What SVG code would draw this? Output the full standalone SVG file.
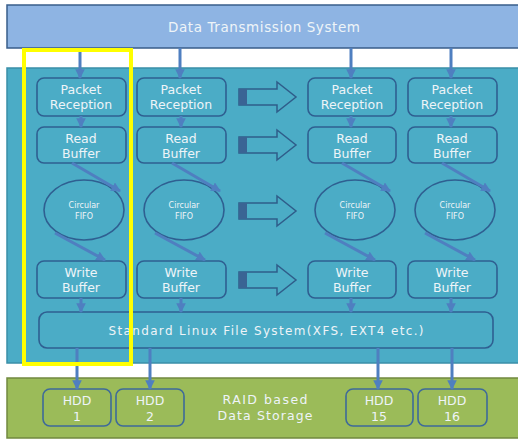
<svg xmlns="http://www.w3.org/2000/svg" width="518" height="439" viewBox="0 0 518 439">
<defs>
<marker id="ah" viewBox="0 0 10 10" refX="9" refY="5" markerWidth="3.2" markerHeight="3.2" orient="auto" markerUnits="strokeWidth">
<path d="M0,0 L10,5 L0,10 z" fill="#4F7FC0"/>
</marker>
<g id="blk">
<path d="M0,7 H38 V0 L57,15 L38,30 V23 H0 Z" fill="none" stroke="#2F5D8A" stroke-width="1.5"/>
<rect x="0" y="7" width="8" height="16" fill="#3A6494"/>
</g>
</defs>
<style>
.t{font-family:"DejaVu Sans","Liberation Sans",sans-serif;fill:#EEF4F8;text-anchor:middle}
.n{fill:#4BACC6;stroke:#2F5F91;stroke-width:1.6}
.h{fill:#9BBB59;stroke:#3E6A9A;stroke-width:1.6}
.c line,.c path{stroke:#4F7FC0;stroke-width:3;fill:none;marker-end:url(#ah)}
</style>
<rect width="518" height="439" fill="#ffffff"/>
<g id="dts">
<rect x="7" y="5" width="514" height="43" fill="#8EB4E3" stroke="#385D8A" stroke-width="1.5"/>
<text class="t" x="264" y="32" font-size="13.5" textLength="192" lengthAdjust="spacing">Data Transmission System</text>
</g>
<g id="panel">
<rect x="7" y="68" width="514" height="295" fill="#4BACC6" stroke="#3A8FA8" stroke-width="1.5"/>
</g>
<g id="storage">
<rect x="7" y="378" width="514" height="60" fill="#9BBB59" stroke="#71893F" stroke-width="1.5"/>
<text class="t" x="265" y="404" font-size="12.5" textLength="85" lengthAdjust="spacing">RAID based</text>
<text class="t" x="265" y="420" font-size="12.5" textLength="95" lengthAdjust="spacing">Data Storage</text>
</g>
<g id="blockarrows">
<use href="#blk" x="239" y="82"/>
<use href="#blk" x="239" y="130"/>
<use href="#blk" x="239" y="196"/>
<use href="#blk" x="239" y="265"/>
</g>
<g id="pr1"><rect class="n" x="37" y="78" width="89" height="38" rx="7"/><text class="t" x="81" y="94" font-size="12.5">Packet</text><text class="t" x="81" y="109" font-size="12.5">Reception</text></g>
<g id="pr2"><rect class="n" x="137" y="78" width="89" height="38" rx="7"/><text class="t" x="181" y="94" font-size="12.5">Packet</text><text class="t" x="181" y="109" font-size="12.5">Reception</text></g>
<g id="pr3"><rect class="n" x="308" y="78" width="88" height="38" rx="7"/><text class="t" x="352" y="94" font-size="12.5">Packet</text><text class="t" x="352" y="109" font-size="12.5">Reception</text></g>
<g id="pr4"><rect class="n" x="408" y="78" width="89" height="38" rx="7"/><text class="t" x="452" y="94" font-size="12.5">Packet</text><text class="t" x="452" y="109" font-size="12.5">Reception</text></g>
<g id="rb1"><rect class="n" x="37" y="127" width="89" height="36" rx="7"/><text class="t" x="81" y="143" font-size="12.5">Read</text><text class="t" x="81" y="158" font-size="12.5">Buffer</text></g>
<g id="rb2"><rect class="n" x="137" y="127" width="89" height="36" rx="7"/><text class="t" x="181" y="143" font-size="12.5">Read</text><text class="t" x="181" y="158" font-size="12.5">Buffer</text></g>
<g id="rb3"><rect class="n" x="308" y="127" width="88" height="36" rx="7"/><text class="t" x="352" y="143" font-size="12.5">Read</text><text class="t" x="352" y="158" font-size="12.5">Buffer</text></g>
<g id="rb4"><rect class="n" x="408" y="127" width="89" height="36" rx="7"/><text class="t" x="452" y="143" font-size="12.5">Read</text><text class="t" x="452" y="158" font-size="12.5">Buffer</text></g>
<g id="ff1"><ellipse class="n" cx="84" cy="210" rx="40" ry="30"/><text class="t" x="84" y="208" font-size="8">Circular</text><text class="t" x="84" y="219" font-size="8">FIFO</text></g>
<g id="ff2"><ellipse class="n" cx="184" cy="210" rx="40" ry="30"/><text class="t" x="184" y="208" font-size="8">Circular</text><text class="t" x="184" y="219" font-size="8">FIFO</text></g>
<g id="ff3"><ellipse class="n" cx="355" cy="210" rx="40" ry="30"/><text class="t" x="355" y="208" font-size="8">Circular</text><text class="t" x="355" y="219" font-size="8">FIFO</text></g>
<g id="ff4"><ellipse class="n" cx="455" cy="210" rx="40" ry="30"/><text class="t" x="455" y="208" font-size="8">Circular</text><text class="t" x="455" y="219" font-size="8">FIFO</text></g>
<g id="wb1"><rect class="n" x="37" y="261" width="89" height="37" rx="7"/><text class="t" x="81" y="277" font-size="12.5">Write</text><text class="t" x="81" y="292" font-size="12.5">Buffer</text></g>
<g id="wb2"><rect class="n" x="137" y="261" width="89" height="37" rx="7"/><text class="t" x="181" y="277" font-size="12.5">Write</text><text class="t" x="181" y="292" font-size="12.5">Buffer</text></g>
<g id="wb3"><rect class="n" x="308" y="261" width="88" height="37" rx="7"/><text class="t" x="352" y="277" font-size="12.5">Write</text><text class="t" x="352" y="292" font-size="12.5">Buffer</text></g>
<g id="wb4"><rect class="n" x="408" y="261" width="89" height="37" rx="7"/><text class="t" x="452" y="277" font-size="12.5">Write</text><text class="t" x="452" y="292" font-size="12.5">Buffer</text></g>
<g id="fs"><rect class="n" x="39" y="312" width="454" height="36" rx="8"/><text class="t" x="266" y="335" font-size="12" textLength="315" lengthAdjust="spacing">Standard Linux File System(XFS, EXT4 etc.)</text></g>
<g id="hdd1"><rect class="h" x="43" y="389" width="68" height="37" rx="7"/><text class="t" x="77" y="405" font-size="12.5">HDD</text><text class="t" x="77" y="421" font-size="12.5">1</text></g>
<g id="hdd2"><rect class="h" x="116" y="389" width="68" height="37" rx="7"/><text class="t" x="150" y="405" font-size="12.5">HDD</text><text class="t" x="150" y="421" font-size="12.5">2</text></g>
<g id="hdd15"><rect class="h" x="346" y="389" width="67" height="37" rx="7"/><text class="t" x="379" y="405" font-size="12.5">HDD</text><text class="t" x="379" y="421" font-size="12.5">15</text></g>
<g id="hdd16"><rect class="h" x="418" y="389" width="69" height="37" rx="7"/><text class="t" x="452" y="405" font-size="12.5">HDD</text><text class="t" x="452" y="421" font-size="12.5">16</text></g>
<g id="connectors" class="c">
<line x1="80" y1="48" x2="80" y2="78"/>
<line x1="180" y1="48" x2="180" y2="78"/>
<line x1="351" y1="48" x2="351" y2="78"/>
<line x1="451" y1="48" x2="451" y2="78"/>
<line x1="81" y1="116" x2="81" y2="127"/>
<line x1="181" y1="116" x2="181" y2="127"/>
<line x1="351" y1="116" x2="351" y2="127"/>
<line x1="451" y1="116" x2="451" y2="127"/>
<line x1="72" y1="163" x2="120" y2="191"/>
<line x1="172" y1="163" x2="220" y2="191"/>
<line x1="342" y1="163" x2="390" y2="191"/>
<line x1="442" y1="163" x2="490" y2="191"/>
<line x1="55" y1="233" x2="105" y2="260"/>
<line x1="155" y1="233" x2="205" y2="260"/>
<line x1="325" y1="233" x2="375" y2="260"/>
<line x1="425" y1="233" x2="475" y2="260"/>
<line x1="81" y1="298" x2="81" y2="312"/>
<line x1="181" y1="298" x2="181" y2="312"/>
<line x1="351" y1="298" x2="351" y2="312"/>
<line x1="451" y1="298" x2="451" y2="312"/>
<line x1="77" y1="348" x2="77" y2="389"/>
<line x1="150" y1="348" x2="150" y2="389"/>
<line x1="378" y1="348" x2="378" y2="389"/>
<line x1="452" y1="348" x2="452" y2="389"/>
</g>
<rect id="highlight" x="24" y="50" width="107" height="314" fill="none" stroke="#FFFF00" stroke-width="4"/>
</svg>
